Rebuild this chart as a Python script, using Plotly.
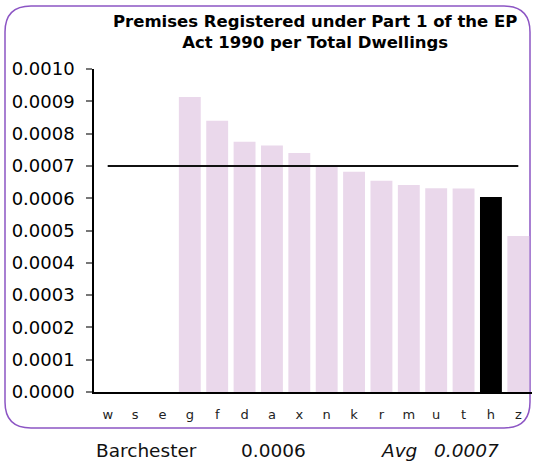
import plotly.graph_objects as go

# ---- data ----
categories = ['w', 's', 'e', 'g', 'f', 'd', 'a', 'x', 'n', 'k', 'r', 'm', 'u', 't', 'h', 'z']
values = [None, None, None, 0.000913, 0.000840, 0.000775, 0.000763, 0.000740,
          0.000697, 0.000682, 0.000654, 0.000641, 0.000631, 0.000630, 0.000604, 0.000483]
highlight = 'h'
average = 0.0007
area_name = 'Barchester'
area_value = '0.0006'
avg_label = '0.0007'
y_ticks = [0.0000, 0.0001, 0.0002, 0.0003, 0.0004, 0.0005, 0.0006, 0.0007, 0.0008, 0.0009, 0.0010]

W, H = 533, 468
ML, MR, MT, MB = 94, 1, 69, 76
PW = W - ML - MR
PH = H - MT - MB
FONT = "Verdana, DejaVu Sans, sans-serif"


def px(x):
    return (x - ML) / PW


def py(y):
    return (H - MB - y) / PH


bar_colors = ['#000000' if c == highlight else '#EAD8EB' for c in categories]

fig = go.Figure()
fig.add_trace(go.Bar(x=categories, y=values, marker=dict(color=bar_colors, line=dict(width=0)),
                     hoverinfo='skip', showlegend=False))
fig.add_trace(go.Scatter(x=[categories[0], categories[-1]], y=[average, average], mode='lines',
                         line=dict(color='#111111', width=2), hoverinfo='skip', showlegend=False))

# rounded frame path in paper coords
x0, y0, x1, y1, r = 5, 6, 530, 428, 26
path = (f"M {px(x0 + r)},{py(y0)} L {px(x1 - r)},{py(y0)} "
        f"Q {px(x1)},{py(y0)} {px(x1)},{py(y0 + r)} "
        f"L {px(x1)},{py(y1 - r)} Q {px(x1)},{py(y1)} {px(x1 - r)},{py(y1)} "
        f"L {px(x0 + r)},{py(y1)} Q {px(x0)},{py(y1)} {px(x0)},{py(y1 - r)} "
        f"L {px(x0)},{py(y0 + r)} Q {px(x0)},{py(y0)} {px(x0 + r)},{py(y0)} Z")

fig.update_layout(
    width=W, height=H,
    margin=dict(l=ML, r=MR, t=MT, b=MB),
    paper_bgcolor='white', plot_bgcolor='white',
    bargap=0.2,
    font=dict(family=FONT, color='#000000'),
    shapes=[dict(type='path', path=path, xref='paper', yref='paper',
                 line=dict(color='#8C55C4', width=1.5), layer='below')],
    xaxis=dict(type='category', categoryorder='array', categoryarray=categories,
               showline=True, linecolor='#000000', linewidth=1.5, ticks='',
               ticklabelstandoff=10,
               tickfont=dict(size=13, color='#222222'), showgrid=False, zeroline=False,
               fixedrange=True),
    yaxis=dict(range=[0, 0.001], tickvals=y_ticks, tickformat='.4f',
               showline=True, linecolor='#000000', linewidth=1.5,
               ticks='outside', ticklen=6, tickcolor='#777777', tickwidth=1.5,
               ticklabelstandoff=8,
               tickfont=dict(size=18, color='#000000'), showgrid=False, zeroline=False,
               fixedrange=True),
    annotations=[
        dict(text='<b>Premises Registered under Part 1 of the EP<br>Act 1990 per Total Dwellings</b>',
             xref='paper', yref='paper', x=px(315), y=py(10), xanchor='center', yanchor='top',
             showarrow=False, font=dict(size=16.5, family=FONT, color='#000000'), align='center'),
        dict(text=area_name, xref='paper', yref='paper', x=px(94), y=py(450), xanchor='left',
             yanchor='middle', showarrow=False, font=dict(size=18.5, family=FONT, color='#111111')),
        dict(text=area_value, xref='paper', yref='paper', x=px(239), y=py(450), xanchor='left',
             yanchor='middle', showarrow=False, font=dict(size=18.5, family=FONT, color='#111111')),
        dict(text='<i>Avg</i>', xref='paper', yref='paper', x=px(379), y=py(450), xanchor='left',
             yanchor='middle', showarrow=False, font=dict(size=18.5, family=FONT, color='#111111')),
        dict(text='<i>' + avg_label + '</i>', xref='paper', yref='paper', x=px(501), y=py(450),
             xanchor='right', yanchor='middle', showarrow=False,
             font=dict(size=18.5, family=FONT, color='#111111')),
    ],
)

fig.write_html("out.html", config={'displayModeBar': False},
               post_script="document.body.style.margin='0';document.body.style.overflow='hidden';")
